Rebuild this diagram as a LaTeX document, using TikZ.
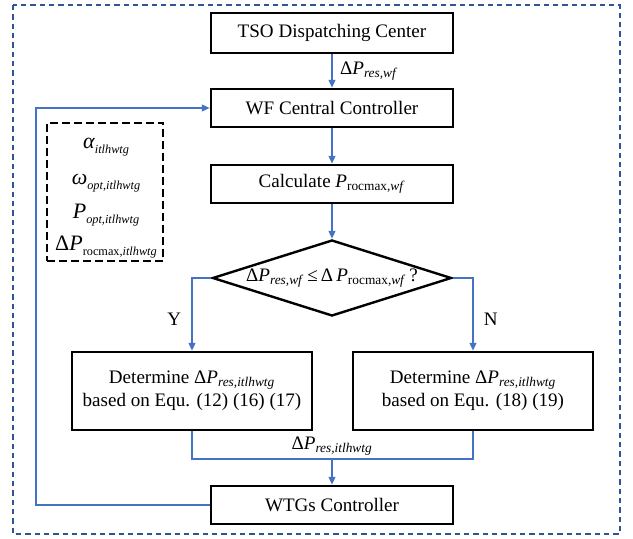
\documentclass[tikz,border=0pt]{standalone}
\usepackage{fontspec}
\setmainfont{Liberation Serif}
\usetikzlibrary{arrows.meta,shapes.geometric}
\newcommand{\sbt}[1]{\textsubscript{#1}}
\newcommand{\sbp}[1]{\raisebox{-0.5ex}{\fontsize{9.2pt}{10pt}\selectfont #1}}
\definecolor{lineblue}{RGB}{68,114,196}
\definecolor{frameblue}{RGB}{47,85,151}
\begin{document}
\begin{tikzpicture}[x=0.75pt,y=-0.75pt,
  txt/.style={font=\fontsize{14.3pt}{17pt}\selectfont},
  ptxt/.style={font=\fontsize{16.5pt}{19pt}\selectfont,inner sep=0pt},
  box/.style={draw=black,line width=1.8pt,fill=white,txt,inner sep=2pt,minimum width=181.5pt},
  flow/.style={draw=lineblue,line width=1.5pt,-{Triangle[length=6pt,width=5pt]}},
  link/.style={draw=lineblue,line width=1.5pt}]
\useasboundingbox (0,0) rectangle (633,539);
% outer frame
\draw[frameblue,line width=1pt,dash pattern=on 4pt off 3pt] (13,5) rectangle (620,534);
% boxes
\node[box,minimum height=30pt] (tso) at (332,33) {TSO Dispatching Center};
\node[box,minimum height=28.5pt] (wf) at (332,108) {WF Central Controller};
\node[box,minimum height=28.5pt] (calc) at (332,184) {Calculate \textit{P}\sbt{rocmax,\textit{wf}}};
\node[diamond,draw=black,line width=1.8pt,minimum width=179.25pt,minimum height=57pt,inner sep=0pt] (dec) at (332,278) {};
\node[txt] (dectext) at (dec.center) {Δ\textit{P}\sbt{\textit{res,wf}}\,≤\,Δ\,\textit{P}\sbt{rocmax,\textit{wf}}\,?};
\node[box,minimum width=180pt,minimum height=58.5pt,align=center] (lb) at (192,391) {Determine Δ\textit{P}\sbt{\textit{res,itlhwtg}}\\based on Equ. (12) (16) (17)};
\node[box,minimum width=180pt,minimum height=58.5pt,align=center] (rb) at (473,391) {Determine Δ\textit{P}\sbt{\textit{res,itlhwtg}}\\based on Equ. (18) (19)};
\node[box,minimum height=28.5pt] (wtg) at (332,505) {WTGs Controller};
% parameter box
\node[draw=black,line width=1.3pt,dash pattern=on 6pt off 3pt,minimum width=87pt,minimum height=104pt] (par) at (105,192) {};
\node[ptxt] (pa) at (106,147) {\textit{α}\sbp{\textit{itlhwtg}}};
\node[ptxt] (pw) at (106,183) {\textit{ω}\sbp{\textit{opt,itlhwtg}}};
\node[ptxt] (pp) at (106,215) {\textit{P}\sbp{\textit{opt,itlhwtg}}};
\node[ptxt] (pd) at (106,247) {Δ\textit{P}\sbp{rocmax,\textit{itlhwtg}}};
% connectors
\draw[flow] (tso) -- node[txt,right,xshift=2pt] (l1) {Δ\textit{P}\sbt{\textit{res,wf}}} (wf);
\draw[flow] (wf) -- (calc);
\draw[flow] (calc) -- (dec.north);
\draw[flow] (dec.west) -| node[txt,pos=0.78,left,xshift=-4pt] (ly) {Y} (lb.north);
\draw[flow] (dec.east) -| node[txt,pos=0.78,right,xshift=4pt] (ln) {N} (rb.north);
\coordinate (m) at (332,459);
\draw[link] (lb.south) |- (m) -| (rb.south);
\node[txt] (l2) at (332,446) {Δ\textit{P}\sbt{\textit{res,itlhwtg}}};
\draw[flow] (m) -- (wtg.north);
\coordinate (fb1) at (36,505);
\coordinate (fb2) at (36,108);
\draw[flow] (wtg.west) -- (fb1) -- (fb2) -- (wf.west);
\end{tikzpicture}
\end{document}
